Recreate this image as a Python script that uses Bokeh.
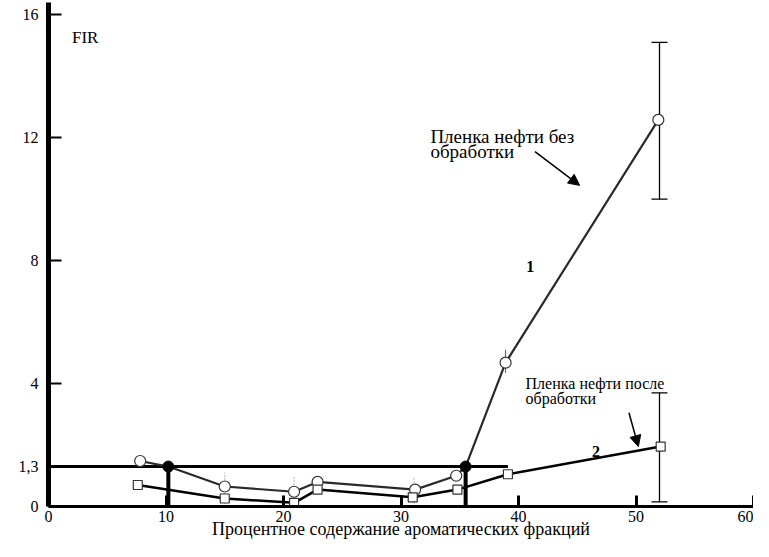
from bokeh.plotting import figure
from bokeh.models import (Range1d, FixedTicker, Whisker, TeeHead, Arrow, NormalHead,
                          ColumnDataSource)
from bokeh.core.properties import value
from bokeh.embed import file_html
from bokeh.resources import INLINE

# ---------------- data ----------------
x_ticks = [0, 10, 20, 30, 40, 50, 60]
y_ticks = [0, 1.3, 4, 8, 12, 16]
y_tick_labels = {0: "0", 1.3: "1,3", 4: "4", 8: "8", 12: "12", 16: "16"}

# curve 1: oil film without treatment (hollow circles)
s1_x = [7.8, 15.0, 20.9, 22.9, 31.2, 34.7, 38.9, 51.9]
s1_y = [1.48, 0.65, 0.48, 0.80, 0.55, 1.00, 4.68, 12.58]
# curve 2: oil film after treatment (hollow squares)
s2_x = [7.6, 15.0, 20.9, 22.9, 31.0, 34.8, 39.1, 52.1]
s2_y = [0.70, 0.26, 0.12, 0.55, 0.30, 0.55, 1.05, 1.95]

# crossings of curve 1 with the FIR = 1,3 threshold
cross_x = [10.2, 35.5]
cross_y = [1.3, 1.3]
threshold = 1.3
threshold_end = 39.1

# error bars
err_big_x = [52.0, 52.0]
err_big_lo = [10.0, 0.15]
err_big_hi = [15.1, 3.7]
err_dot_x = [15.0, 20.9, 31.1]
err_dot_lo = [0.10, 0.03, 0.10]
err_dot_hi = [1.10, 1.00, 0.97]
err_small_x = [38.9]
err_small_lo = [4.35]
err_small_hi = [5.10]

FONT = "Liberation Serif"

p = figure(width=753, height=541, output_backend="svg", toolbar_location=None,
           x_range=Range1d(0, 60.0), y_range=Range1d(0, 16.4),
           min_border_left=48, min_border_right=0, min_border_top=2, min_border_bottom=0)
p.grid.visible = False
p.outline_line_color = None
p.background_fill_color = "white"

# axes
p.xaxis.ticker = FixedTicker(ticks=x_ticks)
p.yaxis.ticker = FixedTicker(ticks=y_ticks)
p.yaxis.major_label_overrides = y_tick_labels
for ax in (p.xaxis[0], p.yaxis[0]):
    ax.major_tick_out = 0
    ax.minor_tick_line_color = None
    ax.axis_line_color = "black"
    ax.major_tick_line_color = "black"
    ax.major_label_text_font = FONT
    ax.major_label_text_font_size = "16px"
    ax.major_label_text_color = "black"
p.yaxis.axis_line_width = 5
p.yaxis.major_tick_in = 13
p.yaxis.major_tick_line_width = 2
p.yaxis.major_label_standoff = 10
p.xaxis.axis_line_width = 3
p.xaxis.major_tick_in = 11
p.xaxis.major_tick_line_width = 3
p.xaxis.major_label_standoff = 4
p.xaxis.axis_label = "Процентное содержание ароматических фракций"
p.xaxis.axis_label_text_font = FONT
p.xaxis.axis_label_text_font_style = "normal"
p.xaxis.axis_label_text_font_size = "18px"
p.xaxis.axis_label_text_color = "black"
p.xaxis.axis_label_standoff = -6

# threshold line and drop lines
p.line([0, threshold_end], [threshold, threshold], line_color="black", line_width=3)
p.segment(x0=cross_x, y0=[0] * len(cross_x), x1=cross_x, y1=cross_y,
          line_color="black", line_width=4)

# dotted small error bars
p.segment(x0=err_dot_x, y0=err_dot_lo, x1=err_dot_x, y1=err_dot_hi,
          line_color="#777777", line_width=1, line_dash="1 2")
p.segment(x0=err_small_x, y0=err_small_lo, x1=err_small_x, y1=err_small_hi,
          line_color="#555555", line_width=1)

# curve 1 line (through measured points and threshold crossings)
pts1 = sorted(zip(s1_x + cross_x, s1_y + cross_y))
p.line([a for a, b in pts1], [b for a, b in pts1], line_color="#2a2a2a", line_width=2.2)
# curve 2 line
p.line(s2_x, s2_y, line_color="black", line_width=2.5)

# markers
p.scatter(s1_x, s1_y, marker="circle", size=11, fill_color="white",
          line_color="#333333", line_width=1.2)
p.scatter(s2_x, s2_y, marker="square", size=9, fill_color="white",
          line_color="#333333", line_width=1.2)
p.scatter(cross_x, cross_y, marker="circle", size=11, fill_color="black", line_color="black")

# big error bars
src = ColumnDataSource(dict(x=err_big_x, lo=err_big_lo, hi=err_big_hi))
p.add_layout(Whisker(source=src, base="x", lower="lo", upper="hi", dimension="height",
                     line_color="black", line_width=1.3,
                     upper_head=TeeHead(size=16, line_color="black", line_width=1.3),
                     lower_head=TeeHead(size=16, line_color="black", line_width=1.3)))

# annotations
p.text(x=[2.0], y=[15.25], text=["FIR"], text_font=value(FONT), text_font_size="17px",
       text_baseline="middle", text_color="black")
p.text(x=[32.5, 32.5], y=[12.05, 11.55], text=["Пленка нефти без", "обработки"],
       text_font=value(FONT), text_font_size="19px", text_baseline="middle", text_color="black")
p.text(x=[40.6, 40.6], y=[4.0, 3.5], text=["Пленка нефти после", "обработки"],
       text_font=value(FONT), text_font_size="16px", text_baseline="middle", text_color="black")
p.text(x=[41.0, 46.6], y=[7.8, 1.8], text=["1", "2"], text_font=value(FONT),
       text_font_size="16px", text_font_style="bold", text_align="center",
       text_baseline="middle", text_color="black")

p.add_layout(Arrow(end=NormalHead(size=11, fill_color="black", line_color="black"),
                   x_start=41.4, y_start=11.55, x_end=45.2, y_end=10.45,
                   line_color="black", line_width=1.5))
p.add_layout(Arrow(end=NormalHead(size=11, fill_color="black", line_color="black"),
                   x_start=49.4, y_start=3.05, x_end=50.2, y_end=1.95,
                   line_color="black", line_width=1.5))

open("out.html", "w").write(file_html(p, INLINE))
